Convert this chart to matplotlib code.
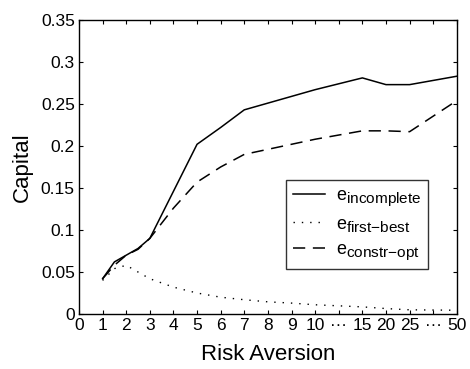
import matplotlib
matplotlib.use("Agg")
import matplotlib.pyplot as plt
import matplotlib._mathtext as mathtext_internal

plt.rcParams['font.family'] = ['Liberation Sans', 'DejaVu Sans']
plt.rcParams['mathtext.fontset'] = 'custom'
plt.rcParams['mathtext.rm'] = 'Liberation Sans'
plt.rcParams['mathtext.it'] = 'Liberation Sans'
# subscripts in the legend are nearly full size in the original
mathtext_internal.SHRINK_FACTOR = 0.85

# positions on the (non-linear) risk aversion axis
x = [1, 1.5, 2, 2.5, 3, 4, 5, 6, 7, 8, 9, 10, 12, 13, 14, 16]
incomplete = [0.042, 0.062, 0.070, 0.078, 0.090, 0.146, 0.202, 0.222, 0.243,
              0.251, 0.259, 0.267, 0.281, 0.273, 0.273, 0.283]
first_best = [0.040, 0.054, 0.058, 0.050, 0.042, 0.032, 0.025, 0.020, 0.017,
              0.0145, 0.013, 0.011, 0.0085, 0.0065, 0.005, 0.0045]
constr_opt = [0.042, 0.058, 0.070, 0.077, 0.090, 0.126, 0.157, 0.175, 0.190,
              0.196, 0.202, 0.208, 0.218, 0.218, 0.217, 0.254]

tick_pos = list(range(17))
tick_labels = ['0', '1', '2', '3', '4', '5', '6', '7', '8', '9', '10',
               '\u00b7\u00b7\u00b7', '15', '20', '25', '\u00b7\u00b7\u00b7', '50']

fig = plt.figure(figsize=(4.7, 3.69), dpi=100)
ax = fig.add_axes([0.168, 0.149, 0.804, 0.797])

ax.plot(x, incomplete, color='black', lw=1.1, label=r'$\mathrm{e}_{\mathrm{incomplete}}$')
ax.plot(x, first_best, color='black', lw=1.0, linestyle=(0, (1, 5)),
        label=r'$\mathrm{e}_{\mathrm{first{-}best}}$')
ax.plot(x, constr_opt, color='black', lw=1.1, linestyle=(0, (8, 5)),
        label=r'$\mathrm{e}_{\mathrm{constr{-}opt}}$')

ax.set_xlim(0, 16)
ax.set_ylim(0, 0.35)
ax.set_xticks(tick_pos)
ax.set_xticklabels(tick_labels)
ax.set_yticks([0, 0.05, 0.1, 0.15, 0.2, 0.25, 0.3, 0.35])
ax.set_yticklabels(['0', '0.05', '0.1', '0.15', '0.2', '0.25', '0.3', '0.35'])
ax.tick_params(direction='in', top=True, right=True, labelsize=12.5, length=3, pad=3)
for s in ax.spines.values():
    s.set_linewidth(1.0)

ax.set_xlabel('Risk Aversion', fontsize=16, labelpad=8)
ax.set_ylabel('Capital', fontsize=16, labelpad=6)

leg = ax.legend(loc='upper left', bbox_to_anchor=(0.548, 0.455), borderaxespad=0,
                fontsize=13, frameon=True, fancybox=False, edgecolor='black',
                handlelength=1.75, handletextpad=0.6, labelspacing=0.4, borderpad=0.4)
leg.get_frame().set_linewidth(1.0)

fig.savefig('out.png', dpi=100)
